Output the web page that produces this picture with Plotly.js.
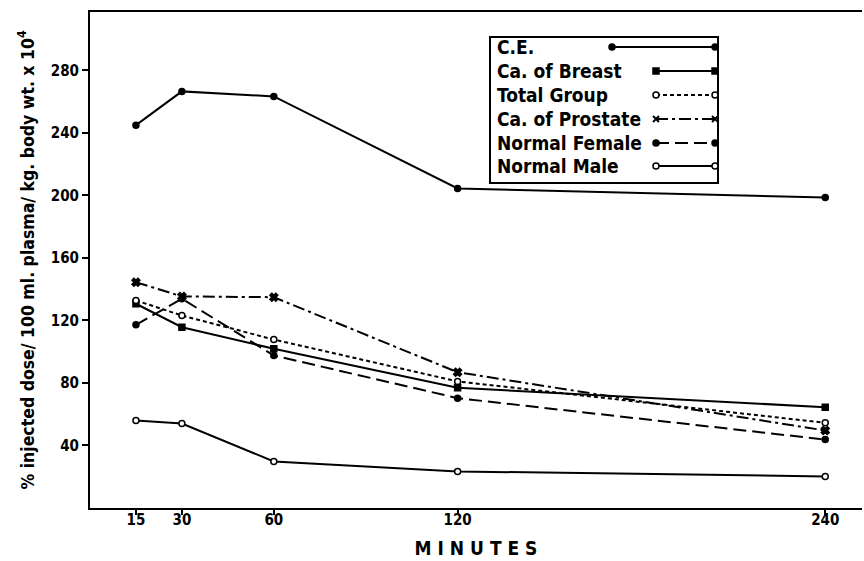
<!DOCTYPE html>
<html><head><meta charset="utf-8">
<script src="https://cdn.plot.ly/plotly-3.0.1.min.js"></script>
<style>body{margin:0;background:#fff}</style></head>
<body><div id="chart" style="width:864px;height:561px"></div>
<script>
// ---- data ----
const minutes = [15, 30, 60, 120, 240];
const ce = [245, 266.6, 263.4, 204.5, 198.7];
const caBreast = [130.7, 115.7, 101.9, 76.9, 64.5];
const totalGroup = [132.8, 123.2, 107.8, 81, 54.5];
const caProstate = [144.5, 135.4, 134.9, 86.9, 49.6];
const normalFemale = [117.2, 133.9, 97.6, 70.3, 43.8];
const normalMale = [56, 54, 29.8, 23.4, 20.2];
const seriesNames = ["C.E.", "Ca. of Breast", "Total Group", "Ca. of Prostate", "Normal Female", "Normal Male"];
const xTicks = [15, 30, 60, 120, 240];
const yTicks = [40, 80, 120, 160, 200, 240, 280];

// ---- styles ----
const FONT = "'DejaVu Sans Condensed', 'DejaVu Sans', sans-serif";
const styles = [
  {dash: "solid", symbol: "circle", fill: "#000"},
  {dash: "solid", symbol: "square", fill: "#000"},
  {dash: "4px,3px", symbol: "circle", fill: "#fff"},
  {dash: "12px,4px,3px,4px", symbol: "x", fill: "#000"},
  {dash: "13px,6px", symbol: "circle", fill: "#000"},
  {dash: "solid", symbol: "circle", fill: "#fff"}
];
const seriesValues = [ce, caBreast, totalGroup, caProstate, normalFemale, normalMale];

const traces = seriesValues.map((vals, i) => ({
  x: minutes, y: vals, name: seriesNames[i], type: "scatter", mode: "lines+markers",
  line: {color: "#000", width: 2, dash: styles[i].dash},
  marker: {symbol: styles[i].symbol, size: styles[i].symbol === "x" ? 7 : 6,
           color: styles[i].fill, line: {color: "#000", width: 1.5}},
  showlegend: false, cliponaxis: false
}));

// ---- custom legend (text left, sample right) ----
const L = 90, R = 862, T = 12, B = 508;
const px = x => (x - L) / (R - L);
const py = y => (B - y) / (B - T);
const shapes = [{type: "rect", xref: "paper", yref: "paper",
  x0: px(490), x1: px(718), y0: py(37), y1: py(183), line: {color: "#000", width: 2}, fillcolor: "#fff", layer: "above"}];
const annotations = [];
const rowY = [47, 71, 95, 119, 143, 166];
seriesNames.forEach((nm, i) => {
  const y = rowY[i];
  const x0 = i === 0 ? 612 : 656, x1 = 715;
  annotations.push({xref: "paper", yref: "paper", x: px(495), y: py(y), xanchor: "left", yanchor: "middle",
    text: nm, showarrow: false, font: {family: FONT, size: 19, weight: 700, color: "#000"}});
  shapes.push({type: "line", xref: "paper", yref: "paper", x0: px(x0), x1: px(x1), y0: py(y), y1: py(y),
    line: {color: "#000", width: 2, dash: styles[i].dash}, layer: "above"});
  [x0, x1].forEach(xx => {
    const sym = styles[i].symbol;
    const base = {xref: "paper", yref: "paper", xsizemode: "pixel", ysizemode: "pixel",
      xanchor: px(xx), yanchor: py(y), fillcolor: styles[i].fill, line: {color: "#000", width: 1.5}, layer: "above"};
    if (sym === "x") {
      shapes.push(Object.assign({}, base, {type: "path", path: "M-3,-3L3,3M-3,3L3,-3", line: {color: "#000", width: 2}}));
    } else {
      shapes.push(Object.assign({}, base, {type: sym === "square" ? "rect" : "circle", x0: -3, x1: 3, y0: -3, y1: 3}));
    }
  });
});

const layout = {
  width: 864, height: 561,
  margin: {l: L, r: 864 - R, t: T, b: 561 - B},
  paper_bgcolor: "#fff", plot_bgcolor: "#fff",
  font: {family: FONT, size: 15, weight: 700, color: "#000"},
  showlegend: false,
  xaxis: {range: [0, 252], tickvals: xTicks, ticktext: xTicks.map(String), ticks: "outside", ticklen: 5,
    tickwidth: 2, tickcolor: "#000", showline: true, linewidth: 2, linecolor: "#000", mirror: true,
    showgrid: false, zeroline: false, tickfont: {family: FONT, size: 15, weight: 700}, ticklabelstandoff: -8,
    title: {text: "M I N U T E S", font: {family: FONT, size: 19, weight: 700}, standoff: 14}},
  yaxis: {range: [0, 317.4], tickvals: yTicks, ticks: "outside", ticklen: 6, tickwidth: 2, tickcolor: "#000",
    showline: true, linewidth: 2, linecolor: "#000", showgrid: false, zeroline: false,
    tickfont: {family: FONT, size: 15, weight: 700},
    title: {text: "% injected dose/ 100 ml. plasma/ kg. body wt. x 10<sup>4</sup>",
      font: {family: FONT, size: 17.5, weight: 700}, standoff: 12}},
  shapes: shapes, annotations: annotations
};
Plotly.newPlot("chart", traces, layout, {staticPlot: true, displayModeBar: false});
</script></body></html>
